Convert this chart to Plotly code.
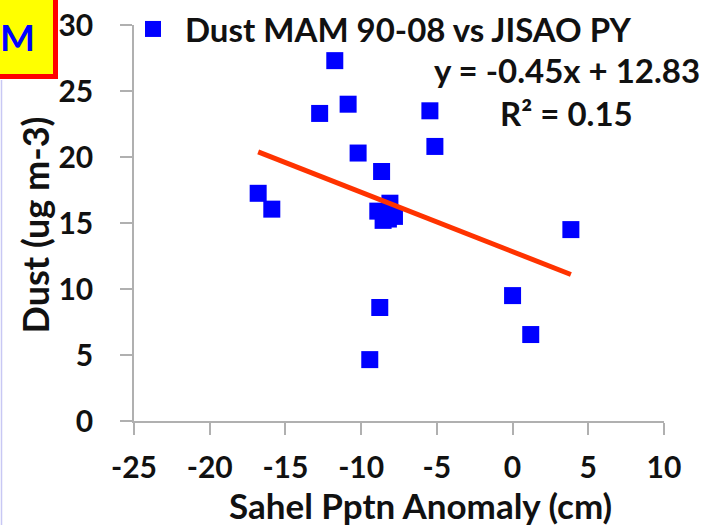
import plotly.graph_objects as go

# ---- data ----
sahel_pptn_anomaly = [-11.74, -12.74, -10.86, -5.46, -5.13, -10.2, -8.65, -16.8, -15.9,
                      -8.1, -8.9, -8.2, -7.8, -8.55, -8.77, -9.43, 0.0, 1.2, 3.85]
dust = [27.3, 23.3, 24.0, 23.5, 20.8, 20.3, 18.9, 17.25, 16.05,
        16.5, 15.9, 15.3, 15.5, 15.2, 8.6, 4.65, 9.5, 6.55, 14.5]
trend_slope = -0.45
trend_intercept = 12.83
r_squared = 0.15
x_ticks = [-25, -20, -15, -10, -5, 0, 5, 10]
y_ticks = [0, 5, 10, 15, 20, 25, 30]
series_name = "Dust MAM 90-08 vs JISAO PY"

# ---- layout geometry (pixels) ----
W, H = 713, 525
PLOT_L, PLOT_R, PLOT_T, PLOT_B = 134, 664, 25, 421
L, T, R, B = PLOT_L, PLOT_T, W - PLOT_R, H - PLOT_B
PW, PH = PLOT_R - PLOT_L, PLOT_B - PLOT_T


def px(x):
    return (x - PLOT_L) / PW


def py(y):
    return (PLOT_B - y) / PH


FONT = "Lato, Carlito, 'Open Sans', sans-serif"
TXT = "#111111"
AX = "#b0b0b0"
TS = 33

trend_x = [min(sahel_pptn_anomaly), max(sahel_pptn_anomaly)]
trend_y = [trend_slope * v + trend_intercept for v in trend_x]

fig = go.Figure()
fig.add_trace(go.Scatter(
    x=sahel_pptn_anomaly, y=dust, mode="markers", name=series_name,
    marker=dict(symbol="square", size=17, color="#0000ff"),
    cliponaxis=False,
))
fig.add_trace(go.Scatter(
    x=trend_x, y=trend_y, mode="lines", showlegend=False,
    line=dict(color="#ff3300", width=5), hoverinfo="skip",
))

fig.update_layout(
    width=W, height=H,
    margin=dict(l=L, r=R, t=T, b=B, autoexpand=False),
    paper_bgcolor="white", plot_bgcolor="white",
    showlegend=True,
    legend=dict(
        x=px(121), y=py(29), xanchor="left", yanchor="middle",
        itemwidth=54,
        font=dict(family=FONT, size=TS, color=TXT, weight="bold"),
        bgcolor="rgba(0,0,0,0)", borderwidth=0,
    ),
    xaxis=dict(
        range=[-25, 10], tickvals=x_ticks, ticktext=[str(v) for v in x_ticks],
        showgrid=False, zeroline=False, showline=True, linecolor=AX, linewidth=1.5,
        ticks="outside", ticklen=12, tickcolor=AX, tickwidth=1.5,
        ticklabelstandoff=7, ticklabeloverflow="allow",
        tickfont=dict(family=FONT, size=30, color=TXT, weight="bold"),
    ),
    yaxis=dict(
        range=[0, 30], tickvals=y_ticks, ticktext=[str(v) for v in y_ticks],
        showgrid=False, zeroline=False, showline=True, linecolor=AX, linewidth=1.5,
        ticks="outside", ticklen=12, tickcolor=AX, tickwidth=1.5,
        ticklabelstandoff=21, ticklabeloverflow="allow",
        tickfont=dict(family=FONT, size=30, color=TXT, weight="bold"),
    ),
    shapes=[
        dict(type="rect", xref="paper", yref="paper",
             x0=px(-10), x1=px(55.5), y0=py(76.5), y1=py(-10),
             line=dict(color="#ff0000", width=5), fillcolor="#ffff00", layer="above"),
        dict(type="line", xref="paper", yref="paper",
             x0=px(1.5), x1=px(1.5), y0=py(80), y1=py(540),
             line=dict(color="#c8c8f4", width=1.5)),
    ],
    annotations=[
        dict(text="M", xref="paper", yref="paper", x=px(17), y=py(37),
             xanchor="center", yanchor="middle", showarrow=False,
             font=dict(family=FONT, size=37, color="#0000ff", weight="bold")),
        dict(text="y = -0.45x + 12.83", xref="paper", yref="paper",
             x=px(566.5), y=py(70), xanchor="center", yanchor="middle", showarrow=False,
             font=dict(family=FONT, size=TS, color=TXT, weight="bold")),
        dict(text="R² = %.2f" % r_squared, xref="paper", yref="paper",
             x=px(566.5), y=py(113), xanchor="center", yanchor="middle", showarrow=False,
             font=dict(family=FONT, size=TS, color=TXT, weight="bold")),
        dict(text="Sahel Pptn Anomaly (cm)", xref="paper", yref="paper",
             x=px(420.5), y=py(505), xanchor="center", yanchor="middle", showarrow=False,
             font=dict(family=FONT, size=35, color=TXT, weight="bold")),
        dict(text="Dust (ug m-3)", xref="paper", yref="paper", textangle=-90,
             x=px(34), y=py(224.5), xanchor="center", yanchor="middle", showarrow=False,
             font=dict(family=FONT, size=36, color=TXT, weight="bold")),
    ],
)

# remove the default 8px page margin so the figure sits at the window's top-left
fig.write_html("out.html", config={"displayModeBar": False},
               post_script="document.body.style.margin='0';")
